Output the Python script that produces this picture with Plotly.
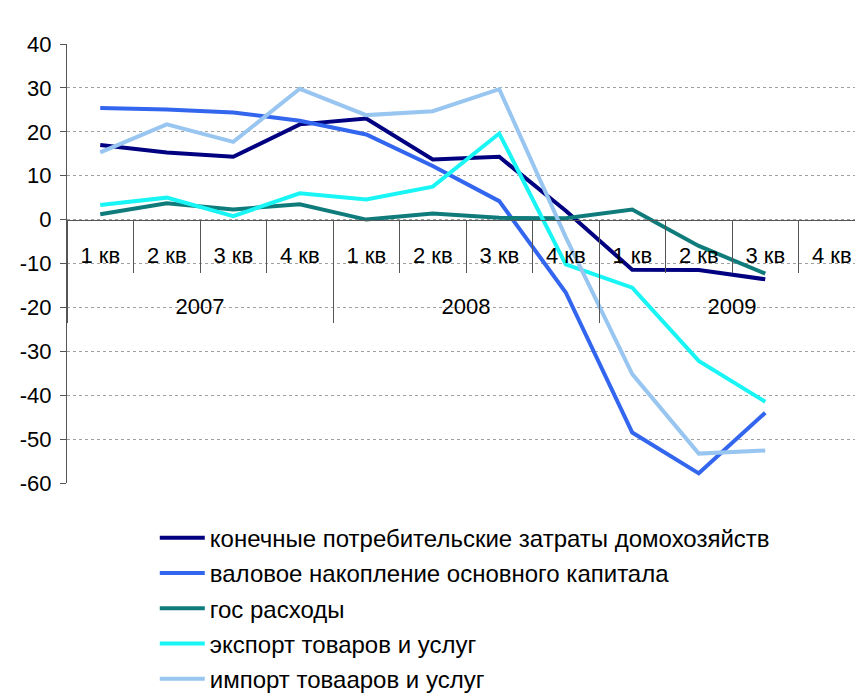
import plotly.graph_objects as go

# quarters 2007 Q1 .. 2009 Q4 (2009 Q4 has no data)
years = ["2007"] * 4 + ["2008"] * 4 + ["2009"] * 4
quarters = ["1 кв", "2 кв", "3 кв", "4 кв"] * 3
year_labels = ["2007", "2008", "2009"]

household = [17.0, 15.3, 14.3, 21.7, 23.0, 13.7, 14.3, 2.0, -11.4, -11.5, -13.6, None]
fixed_capital = [25.4, 25.1, 24.4, 22.5, 19.4, 12.2, 4.2, -16.6, -48.5, -57.8, -44.0, None]
government = [1.2, 3.7, 2.3, 3.5, 0.0, 1.4, 0.4, 0.3, 2.3, -6.0, -12.3, None]
exports = [3.3, 5.0, 0.8, 6.0, 4.6, 7.5, 19.6, -10.2, -15.5, -32.2, -41.5, None]
imports = [15.3, 21.7, 17.7, 29.8, 23.8, 24.7, 29.7, -4.0, -35.2, -53.3, -52.6, None]

y_ticks = [40, 30, 20, 10, 0, -10, -20, -30, -40, -50, -60]
y_labels = ["40", "30", "20", "10", "0", "-10", "-20", "-30", "-40", "-50", "-60"]

series = [
    ("конечные потребительские затраты домохозяйств", household, "#000080"),
    ("валовое накопление основного капитала", fixed_capital, "#3366ee"),
    ("гос расходы", government, "#0f7b7b"),
    ("экспорт товаров и услуг", exports, "#19f5f5"),
    ("импорт товааров и услуг", imports, "#99c6f0"),
]

# unique category per quarter, shown with the short quarter label
cats = [f"{q} {y}" for y, q in zip(years, quarters)]
n = len(cats)
per_year = 4
year_centers = [i * per_year + (per_year - 1) / 2 for i in range(len(year_labels))]

FONT = "Liberation Sans"
AXIS = "#555555"

fig = go.Figure()
for i, (name, vals, color) in enumerate(series):
    fig.add_trace(go.Scatter(
        x=cats,
        y=vals,
        name=name,
        mode="lines",
        line=dict(color=color, width=4),
        legendgroup=str(i),
    ))

# empty trace so the year axis gets its own subplot and is drawn
fig.add_trace(go.Scatter(x=[], y=[], xaxis="x2", showlegend=False, hoverinfo="skip"))

fig.update_layout(
    template="none",
    width=857,
    height=688,
    paper_bgcolor="white",
    plot_bgcolor="white",
    font=dict(family=FONT, size=22, color="black"),
    margin=dict(l=59, r=0, t=36, b=213),
    showlegend=True,
    legend=dict(
        yref="container",
        x=0.11, y=0.262, xanchor="left", yanchor="top",
        font=dict(size=24),
        tracegroupgap=1,
        itemwidth=45,
        bgcolor="rgba(0,0,0,0)",
    ),
    xaxis=dict(
        type="category",
        categoryorder="array",
        categoryarray=cats,
        tickmode="array",
        tickvals=cats,
        ticktext=quarters,
        range=[-0.5, n - 0.5],
        anchor="free",
        position=0.6,
        showline=True,
        linecolor=AXIS,
        linewidth=1,
        ticks="outside",
        tickson="boundaries",
        ticklen=52,
        tickcolor=AXIS,
        ticklabelstandoff=16,
        showgrid=False,
        zeroline=False,
        tickfont=dict(size=22),
    ),
    xaxis2=dict(
        overlaying="x",
        anchor="free",
        position=0.3645,
        range=[-0.5, n - 0.5],
        tickmode="array",
        tickvals=year_centers,
        ticktext=year_labels,
        ticks="",
        ticklabelstandoff=-32,
        minor=dict(tick0=-0.5, dtick=per_year, ticks="inside", ticklen=103,
                   tickcolor=AXIS, tickwidth=1),
        showline=False,
        showgrid=False,
        zeroline=False,
        tickfont=dict(size=22),
    ),
    yaxis=dict(
        range=[-60, 40],
        tickvals=y_ticks,
        ticktext=y_labels,
        showline=True,
        linecolor=AXIS,
        ticks="outside",
        ticklen=6,
        tickcolor=AXIS,
        ticklabelstandoff=4,
        showgrid=True,
        gridcolor="#a0a0a0",
        griddash="dot",
        zeroline=False,
        tickfont=dict(size=22),
    ),
)

fig.write_html("out.html")
